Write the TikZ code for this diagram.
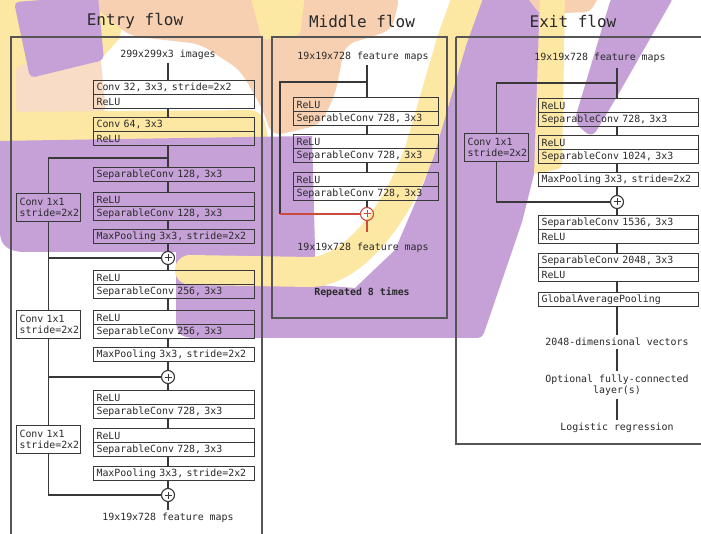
\documentclass[tikz,border=0pt]{standalone}
\usepackage{fontspec}
\newfontfamily\monof{DejaVu Sans Mono}
\newcommand\fsm{\monof\fontsize{9.9}{11.5}\selectfont}
\newcommand\ftitle{\monof\fontsize{16}{19}\selectfont}
\usetikzlibrary{calc}
\definecolor{purp}{HTML}{C5A1D7}
\definecolor{yell}{HTML}{FCE7A3}
\definecolor{peach}{HTML}{F7D0B2}
\definecolor{peachl}{HTML}{F8DCC6}
\definecolor{linec}{HTML}{383838}
\definecolor{framec}{HTML}{555555}
\definecolor{txtc}{HTML}{2A2A2A}
\definecolor{redc}{HTML}{CC4A3C}
\tikzset{
  lin/.style={draw=linec, line width=1.1pt},
  rowE/.style={draw=linec, line width=1.1pt, anchor=north west, text width=155pt, inner xsep=3pt, inner ysep=0pt, minimum height=14pt, align=left, font=\fsm, text=txtc},
  rowM/.style={rowE, text width=139pt},
  rowX/.style={rowE, text width=154pt},
  side/.style={draw=linec, line width=1.1pt, anchor=north west, text width=58pt, inner xsep=3pt, inner ysep=2pt, minimum height=28pt, align=left, font=\fsm, text=txtc},
  plus/.style={circle, draw=#1, line width=1.1pt, minimum size=13pt, inner sep=0pt,
    path picture={\draw[#1, line width=1pt] ([xshift=-3.5pt]path picture bounding box.center) -- ([xshift=3.5pt]path picture bounding box.center) ([yshift=-3.5pt]path picture bounding box.center) -- ([yshift=3.5pt]path picture bounding box.center);}},
  plus/.default=linec,
  lbl/.style={font=\fsm, text=txtc, inner sep=3pt, align=center},
  ttl/.style={font=\ftitle, text=txtc, inner sep=0pt},
  panel/.style={draw=framec, line width=1.6pt},
}
\begin{document}
\begin{tikzpicture}[x=1pt,y=-1pt]
\useasboundingbox (0,0) rectangle (701,534);
\clip (0,0) rectangle (701,534);
\fill[white] (0,0) rectangle (701,534);
% ---------- background strokes ----------
\fill[yell] (-5,-5) -- (125,-5) -- (120,38) -- (100,60) -- (16,115) -- (-5,115) -- cycle;
\fill[peachl, rounded corners=6pt] (16,66) -- (100,52) -- (106,112) -- (16,114) -- cycle;
\fill[peach, rounded corners=10pt] (80,-5) -- (400,-5) -- (392,30) -- (345,45) -- (335,95) -- (320,125) -- (272,136) -- (262,108) -- (240,70) -- (200,44) -- (130,36) -- cycle;
\fill[yell, rounded corners=6pt] (250,-5) -- (305,-5) -- (300,36) -- (262,40) -- cycle;
\fill[purp, rounded corners=5pt] (14,2) -- (98,-4) -- (104,60) -- (30,78) -- cycle;
\fill[yell, rounded corners=12pt] (-10,112) -- (262,110) -- (270,146) -- (-10,147) -- cycle;
\fill[purp] (-5,141) -- (312,136) -- (316,285) -- (355,288) -- (395,250) -- (425,180) -- (447,110) -- (462,55) -- (480,-5) -- (552,-5) -- (546,60) -- (540,150) -- (522,222) -- (484,333) .. controls (482,337) and (480,338) .. (476,338) -- (195,338) .. controls (180,338) and (176,332) .. (176,320) -- (176,252) -- (25,252) .. controls (8,252) and (0,245) .. (0,232) -- (-5,232) -- cycle;
\draw[yell, line width=30pt, line cap=round] (190,270) -- (310,272) .. controls (350,272) and (395,220) .. (420,150) -- (452,40) -- (470,-10);
\fill[peach, rounded corners=5pt] (525,-5) -- (600,-5) -- (590,12) -- (540,14) -- cycle;
\fill[yell, rounded corners=4pt] (540,-5) -- (565,-5) -- (562,168) -- (534,175) -- cycle;
\fill[purp, rounded corners=8pt] (612,-5) -- (675,-5) -- (615,100) -- (592,138) -- (574,122) -- cycle;
% ---------- panels and titles ----------
\draw[panel] (11,545) -- (11,37) -- (262,37) -- (262,545);
\draw[panel] (272,37) rectangle (447,318);
\draw[panel] (456,37) -- (456,444) -- (712,444);
\draw[panel] (456,37) -- (712,37);
\node[ttl] (tE) at (135,21) {Entry flow};
\node[ttl] (tM) at (362,21) {Middle flow};
\node[ttl] (tX) at (573,21) {Exit flow};
% ---------- entry flow ----------
\node[lbl] (in) at (168,55) {299x299x3 images};
\node[rowE] (b1a) at (93,80) {Conv 32, 3x3, stride=2x2};
\node[rowE] (b1b) at (93,94) {ReLU};
\node[rowE] (b2a) at (93,117) {Conv 64, 3x3};
\node[rowE] (b2b) at (93,131) {ReLU};
\node[rowE] (b3) at (93,167) {SeparableConv 128, 3x3};
\node[rowE] (b4a) at (93,192) {ReLU};
\node[rowE] (b4b) at (93,206) {SeparableConv 128, 3x3};
\node[rowE] (b5) at (93,229) {MaxPooling 3x3, stride=2x2};
\node[plus] (c1) at (168,258) {};
\node[rowE] (b6a) at (93,270) {ReLU};
\node[rowE] (b6b) at (93,284) {SeparableConv 256, 3x3};
\node[rowE] (b7a) at (93,310) {ReLU};
\node[rowE] (b7b) at (93,324) {SeparableConv 256, 3x3};
\node[rowE] (b8) at (93,347) {MaxPooling 3x3, stride=2x2};
\node[plus] (c2) at (168,377) {};
\node[rowE] (b9a) at (93,390) {ReLU};
\node[rowE] (b9b) at (93,404) {SeparableConv 728, 3x3};
\node[rowE] (b10a) at (93,428) {ReLU};
\node[rowE] (b10b) at (93,442) {SeparableConv 728, 3x3};
\node[rowE] (b11) at (93,466) {MaxPooling 3x3, stride=2x2};
\node[plus] (c3) at (168,495) {};
\node[lbl] (outE) at (168,518) {19x19x728 feature maps};
\node[side] (s1) at (16,193) {Conv 1x1\\stride=2x2};
\node[side] (s2) at (16,310) {Conv 1x1\\stride=2x2};
\node[side] (s3) at (16,425) {Conv 1x1\\stride=2x2};
\coordinate (eb1) at (168,158);
\draw[lin] (in.south) -- (in.south |- b1a.north);
\draw[lin] (b1b.south -| c1) -- (b2a.north -| c1);
\draw[lin] (b2b.south -| c1) -- (b3.north -| c1);
\draw[lin] (b3.south -| c1) -- (b4a.north -| c1);
\draw[lin] (b4b.south -| c1) -- (b5.north -| c1);
\draw[lin] (b5.south -| c1) -- (c1.north);
\draw[lin] (c1.south) -- (b6a.north -| c1);
\draw[lin] (b6b.south -| c1) -- (b7a.north -| c1);
\draw[lin] (b7b.south -| c1) -- (b8.north -| c1);
\draw[lin] (b8.south -| c2) -- (c2.north);
\draw[lin] (c2.south) -- (b9a.north -| c2);
\draw[lin] (b9b.south -| c2) -- (b10a.north -| c2);
\draw[lin] (b10b.south -| c2) -- (b11.north -| c2);
\draw[lin] (b11.south -| c3) -- (c3.north);
\draw[lin] (c3.south) -- (outE.north);
\draw[lin] (eb1) -- (eb1 -| s1.north) -- (s1.north);
\draw[lin] (s1.south) -- (s1.south |- c1) -- (c1.west);
\draw[lin] (s1.south |- c1) -- (s2.north);
\draw[lin] (s2.south) -- (s2.south |- c2) -- (c2.west);
\draw[lin] (s2.south |- c2) -- (s3.north);
\draw[lin] (s3.south) -- (s3.south |- c3) -- (c3.west);
% ---------- middle flow ----------
\node[lbl] (inM) at (363,57) {19x19x728 feature maps};
\node[rowM] (m1a) at (293,97) {ReLU};
\node[rowM] (m1b) at (293,111) {SeparableConv 728, 3x3};
\node[rowM] (m2a) at (293,134) {ReLU};
\node[rowM] (m2b) at (293,148) {SeparableConv 728, 3x3};
\node[rowM] (m3a) at (293,172) {ReLU};
\node[rowM] (m3b) at (293,186) {SeparableConv 728, 3x3};
\node[plus=redc] (cm) at (367,214) {};
\node[lbl] (outM) at (363,248) {19x19x728 feature maps};
\node[lbl, font=\fsm\bfseries] (rep) at (362,293) {Repeated 8 times};
\coordinate (mtop) at (367,65);
\coordinate (mb) at (367,82);
\coordinate (ml) at (280,82);
\coordinate (mstub) at (367,232);
\draw[lin] (mtop) -- (m1a.north -| mtop);
\draw[lin] (m1b.south -| cm) -- (m2a.north -| cm);
\draw[lin] (m2b.south -| cm) -- (m3a.north -| cm);
\draw[lin] (m3b.south -| cm) -- (cm.north);
\draw[lin] (mb) -- (ml) -- (ml |- cm);
\draw[draw=redc, line width=1.1pt] (ml |- cm) -- (cm.west);
\draw[draw=redc, line width=1.1pt] (cm.south) -- (mstub);
% ---------- exit flow ----------
\node[lbl] (inX) at (600,58) {19x19x728 feature maps};
\node[rowX] (e1a) at (538,98) {ReLU};
\node[rowX] (e1b) at (538,112) {SeparableConv 728, 3x3};
\node[rowX] (e2a) at (538,135) {ReLU};
\node[rowX] (e2b) at (538,149) {SeparableConv 1024, 3x3};
\node[rowX] (e3) at (538,172) {MaxPooling 3x3, stride=2x2};
\node[plus] (cx) at (617,202) {};
\node[rowX] (e4a) at (538,215) {SeparableConv 1536, 3x3};
\node[rowX] (e4b) at (538,229) {ReLU};
\node[rowX] (e5a) at (538,253) {SeparableConv 2048, 3x3};
\node[rowX] (e5b) at (538,267) {ReLU};
\node[rowX] (e6) at (538,292) {GlobalAveragePooling};
\node[side] (sx) at (464,133) {Conv 1x1\\stride=2x2};
\node[lbl] (v1) at (617,342) {2048-dimensional vectors};
\node[lbl] (v2) at (617,385) {Optional fully-connected\\layer(s)};
\node[lbl] (v3) at (617,428) {Logistic regression};
\coordinate (xtop) at (617,68);
\coordinate (xb) at (617,83);
\draw[lin] (xtop) -- (e1a.north -| xtop);
\draw[lin] (e1b.south -| cx) -- (e2a.north -| cx);
\draw[lin] (e2b.south -| cx) -- (e3.north -| cx);
\draw[lin] (e3.south -| cx) -- (cx.north);
\draw[lin] (cx.south) -- (e4a.north -| cx);
\draw[lin] (e4b.south -| cx) -- (e5a.north -| cx);
\draw[lin] (e5b.south -| cx) -- (e6.north -| cx);
\draw[lin] (e6.south -| cx) -- (v1.north);
\draw[lin] (v1.south) -- (v2.north);
\draw[lin] (v2.south) -- (v3.north);
\draw[lin] (xb) -- (xb -| sx.north) -- (sx.north);
\draw[lin] (sx.south) -- (sx.south |- cx) -- (cx.west);
\end{tikzpicture}
\end{document}
